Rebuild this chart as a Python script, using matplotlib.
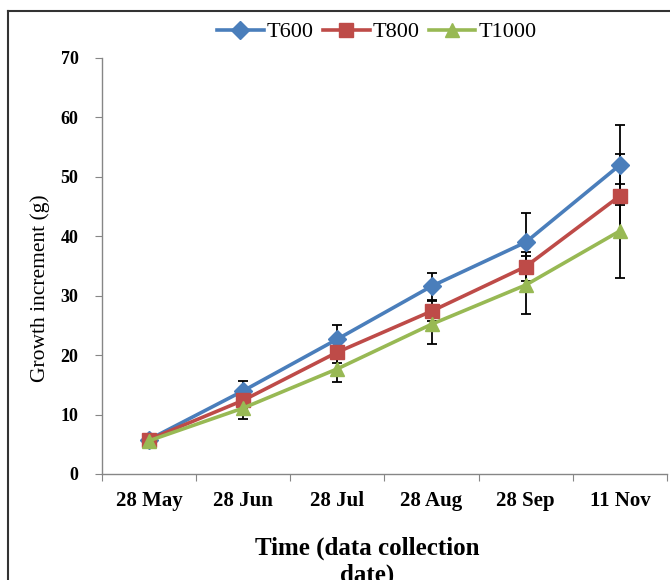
import matplotlib
matplotlib.use("Agg")
import matplotlib.pyplot as plt
from matplotlib.lines import Line2D
import numpy as np

dates = ["28 May", "28 Jun", "28 Jul", "28 Aug", "28 Sep", "11 Nov"]
t600 = [5.8, 14.0, 22.7, 31.6, 39.0, 52.0]
t800 = [5.8, 12.4, 20.5, 27.4, 34.9, 46.8]
t1000 = [5.6, 11.1, 17.7, 25.2, 31.8, 40.9]
t600_err = [0.3, 1.6, 2.4, 2.3, 4.9, 6.8]
t800_err = [0.3, 1.3, 1.8, 1.7, 2.5, 7.1]
t1000_err = [0.3, 1.8, 2.2, 3.3, 4.8, 7.9]
series = ["T600", "T800", "T1000"]
yticks = [0, 10, 20, 30, 40, 50, 60, 70]

colors = ["#4A7EBB", "#BE4B48", "#98B954"]
markers = ["D", "s", "^"]
msizes = [9, 10, 10.5]

plt.rcParams["font.family"] = ["Liberation Serif", "DejaVu Serif"]

fig = plt.figure(figsize=(6.7, 5.8), dpi=100)
ax = fig.add_axes([102/670, 1-474/580, (667-102)/670, (474-58)/580])

x = np.arange(len(dates))
vals = [t600, t800, t1000]
errs = [t600_err, t800_err, t1000_err]
for v, e in zip(vals, errs):
    ax.errorbar(x, v, yerr=e, fmt="none", ecolor="black", elinewidth=1.3,
                capsize=3.5, capthick=1.3, zorder=2)
for v, c, m, ms, name in zip(vals, colors, markers, msizes, series):
    ax.plot(x, v, color=c, marker=m, markersize=ms, linewidth=2.6,
            label=name, zorder=3)

ax.set_xlim(-0.5, len(dates) - 0.5)
ax.set_ylim(0, 70)
ax.set_yticks(yticks)
ax.set_yticklabels([str(t) for t in yticks], fontweight="bold", fontsize=13)
ax.set_xticks(np.arange(-0.5, len(dates), 1.0))
ax.set_xticklabels([])
ax.set_xticks(x, minor=True)
ax.set_xticklabels(dates, minor=True, fontweight="bold", fontsize=15)
ax.tick_params(axis="x", which="minor", length=0, pad=12)
ax.tick_params(axis="x", which="major", length=5, direction="out", color="#868686")
ax.tick_params(axis="y", length=5, direction="out", color="#868686", pad=12)
for s in ["top", "right"]:
    ax.spines[s].set_visible(False)
for s in ["left", "bottom"]:
    ax.spines[s].set_color("#868686")
    ax.spines[s].set_linewidth(1.0)

fig.text(40/670, 1-288/580, "Growth increment (g)", rotation=90,
         ha="center", va="center", fontsize=15.5)
fig.text(367/670, 1-537/580, "Time (data collection\ndate)", ha="center",
         va="top", fontsize=18, fontweight="bold", linespacing=1.15)

leg = ax.legend(loc="upper center", bbox_to_anchor=(377/670, 1-13/580),
                bbox_transform=fig.transFigure, ncol=3, frameon=False,
                fontsize=16, handlelength=2.1, handletextpad=0.15,
                columnspacing=0.4, borderaxespad=0)

fig.add_artist(Line2D([8/670, 8/670], [0, 1-11/580], color="#333333", linewidth=1.5,
                      transform=fig.transFigure))
fig.add_artist(Line2D([8/670, 1], [1-11/580, 1-11/580], color="#333333", linewidth=1.5,
                      transform=fig.transFigure))

fig.savefig("out.png", dpi=100)
